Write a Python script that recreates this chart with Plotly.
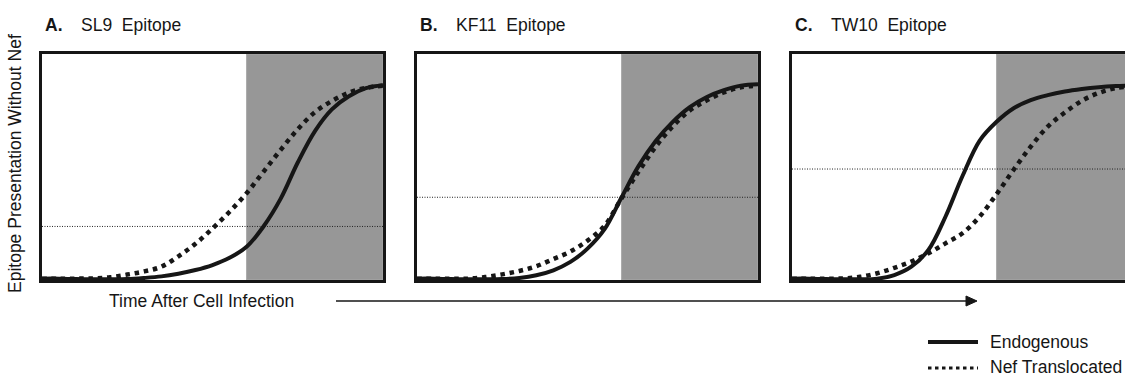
import plotly.graph_objects as go

# Time axis, percent of the observation window
time_pct = [0, 5, 10, 15, 20, 25, 30, 35, 40, 45, 50, 55, 60, 65, 70, 75, 80, 85, 90, 95, 100]

# Epitope presentation (percent of panel height) for each epitope
sl9_endogenous = [0.6, 0.6, 0.4, 0.3, 0.3, 0.4, 0.9, 1.6, 2.8, 4.4, 6.6, 9.8, 14.7, 23.8, 36.0, 52.0, 65.8, 75.5, 81.3, 84.9, 86.2]
sl9_nef = [0.6, 0.6, 0.6, 0.7, 1.2, 2.4, 3.8, 5.9, 10.5, 16.0, 22.8, 30.2, 38.4, 48.0, 57.6, 66.7, 74.2, 79.2, 82.9, 85.0, 86.0]

kf11_endogenous = [0.6, 0.6, 0.4, 0.3, 0.3, 0.4, 0.9, 2.1, 4.3, 8.0, 13.9, 22.5, 36.6, 50.5, 61.5, 70.0, 76.5, 81.0, 84.0, 86.0, 86.6]
kf11_nef = [0.6, 0.6, 0.6, 0.6, 1.3, 2.5, 4.0, 6.1, 9.3, 12.6, 17.4, 24.0, 36.2, 48.0, 59.0, 68.0, 75.0, 79.5, 83.0, 85.3, 86.0]

tw10_endogenous = [0.6, 0.6, 0.4, 0.3, 0.3, 0.6, 2.2, 5.9, 13.3, 28.0, 46.0, 61.6, 70.0, 76.0, 79.6, 81.8, 83.4, 84.5, 85.3, 85.8, 86.1]
tw10_nef = [0.6, 0.6, 0.6, 0.7, 1.4, 3.0, 5.4, 8.2, 11.8, 16.2, 20.7, 28.0, 38.0, 48.8, 59.0, 67.9, 74.1, 79.3, 82.8, 84.9, 85.8]

panel_letters = ["A.", "B.", "C."]
panel_epitopes = ["SL9  Epitope", "KF11  Epitope", "TW10  Epitope"]
threshold_levels = [23.7, 36.6, 49.1]
shade_start = 60

endogenous_sets = [sl9_endogenous, kf11_endogenous, tw10_endogenous]
nef_sets = [sl9_nef, kf11_nef, tw10_nef]

W, H = 1125, 376
FONT = "Liberation Sans, Arial, sans-serif"
FONT_SIZE = 17.5
INK = "#161616"


def px(x):
    return x / W


def py(y):
    return 1 - y / H


# panel pixel boxes (left edge, width); the third panel runs past the page edge
panel_left = [42, 417, 792]
panel_width = 341
top_px, bottom_px = 54, 280

fig = go.Figure()
shapes = []
annotations = []

for i in range(3):
    ax = "" if i == 0 else str(i + 1)
    left = panel_left[i]
    right = min(left + panel_width, W)
    x_max = (right - left) / panel_width * 100

    # shaded late-infection window
    shapes.append(dict(type="rect", xref=f"x{ax}", yref=f"y{ax}",
                       x0=shade_start, x1=100, y0=0, y1=100,
                       fillcolor="#979797", line=dict(color="#a8a8a8", width=1),
                       layer="below"))

    # threshold reference line
    fig.add_trace(go.Scatter(x=[0, 100], y=[threshold_levels[i]] * 2, mode="lines",
                             line=dict(color="#222222", width=1, dash="1px,1.5px"),
                             xaxis=f"x{ax}", yaxis=f"y{ax}", showlegend=False,
                             hoverinfo="skip"))
    fig.add_trace(go.Scatter(x=time_pct, y=nef_sets[i], mode="lines", name="Nef Translocated",
                             line=dict(color=INK, width=4.5, dash="4.5px,4.8px",
                                       shape="spline", smoothing=1.0),
                             xaxis=f"x{ax}", yaxis=f"y{ax}", showlegend=False))
    fig.add_trace(go.Scatter(x=time_pct, y=endogenous_sets[i], mode="lines", name="Endogenous",
                             line=dict(color=INK, width=4, shape="spline", smoothing=1.0),
                             xaxis=f"x{ax}", yaxis=f"y{ax}", showlegend=False))

    fig.update_layout({
        f"xaxis{ax}": dict(domain=[px(left), px(right)], range=[0, x_max],
                           showgrid=False, zeroline=False, showticklabels=False, ticks="",
                           showline=True, linecolor=INK, linewidth=3, mirror=True,
                           anchor=f"y{ax}", fixedrange=True),
        f"yaxis{ax}": dict(domain=[py(bottom_px), py(top_px)], range=[0, 100],
                           showgrid=False, zeroline=False, showticklabels=False, ticks="",
                           showline=True, linecolor=INK, linewidth=3,
                           mirror=(i < 2), anchor=f"x{ax}", fixedrange=True),
    })

    # panel titles
    annotations.append(dict(text="<b>" + panel_letters[i] + "</b>", x=px(left + 1), y=py(25),
                            xref="paper", yref="paper", xanchor="left", yanchor="middle",
                            showarrow=False, font=dict(family=FONT, size=FONT_SIZE, color=INK)))
    annotations.append(dict(text=panel_epitopes[i], x=px(left + 37), y=py(25),
                            xref="paper", yref="paper", xanchor="left", yanchor="middle",
                            showarrow=False, font=dict(family=FONT, size=FONT_SIZE, color=INK)))

# y-axis caption
annotations.append(dict(text="Epitope Presentation Without Nef", x=px(15), y=py(164),
                        xref="paper", yref="paper", xanchor="center", yanchor="middle",
                        textangle=-90, showarrow=False,
                        font=dict(family=FONT, size=FONT_SIZE, color=INK)))

# time caption with arrow
annotations.append(dict(text="Time After Cell Infection", x=px(107), y=py(301),
                        xref="paper", yref="paper", xanchor="left", yanchor="middle",
                        showarrow=False, font=dict(family=FONT, size=FONT_SIZE, color=INK)))
shapes.append(dict(type="line", xref="paper", yref="paper",
                   x0=px(336), x1=px(968), y0=py(301), y1=py(301),
                   line=dict(color=INK, width=1.5)))
shapes.append(dict(type="path", xref="paper", yref="paper",
                   path=f"M{px(966)},{py(296)} L{px(977)},{py(301)} L{px(966)},{py(306)} Z",
                   fillcolor=INK, line=dict(color=INK, width=1)))

# key
shapes.append(dict(type="line", xref="paper", yref="paper",
                   x0=px(928), x1=px(978), y0=py(342), y1=py(342),
                   line=dict(color=INK, width=4)))
shapes.append(dict(type="line", xref="paper", yref="paper",
                   x0=px(928), x1=px(978), y0=py(368), y1=py(368),
                   line=dict(color=INK, width=3, dash="3.5px,3.5px")))
annotations.append(dict(text="Endogenous", x=px(988), y=py(342),
                        xref="paper", yref="paper", xanchor="left", yanchor="middle",
                        showarrow=False, font=dict(family=FONT, size=FONT_SIZE, color=INK)))
annotations.append(dict(text="Nef Translocated", x=px(988), y=py(367),
                        xref="paper", yref="paper", xanchor="left", yanchor="middle",
                        showarrow=False, font=dict(family=FONT, size=FONT_SIZE, color=INK)))

fig.update_layout(
    width=W, height=H,
    margin=dict(l=0, r=0, t=0, b=0),
    paper_bgcolor="white", plot_bgcolor="white",
    shapes=shapes, annotations=annotations,
    showlegend=False,
)

fig.write_html("out.html", config={"displayModeBar": False})
